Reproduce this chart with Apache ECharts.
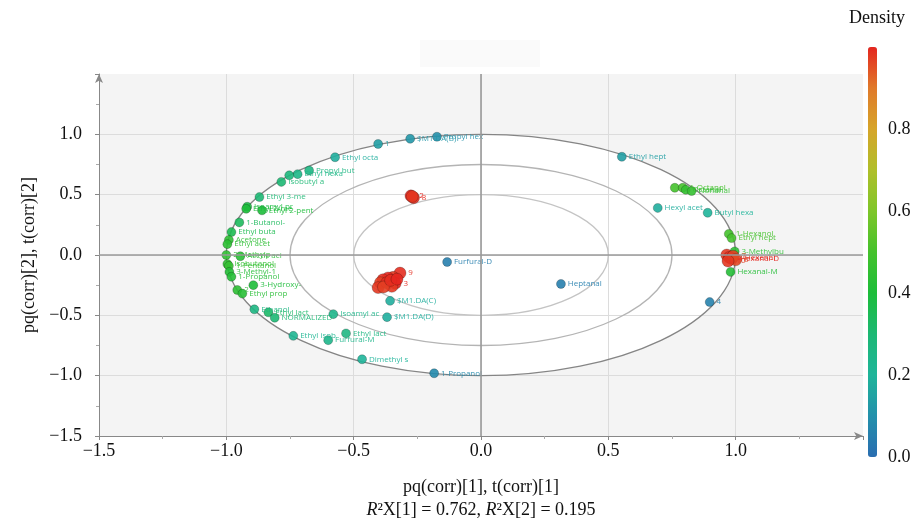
<!DOCTYPE html>
<html>
<head>
<meta charset="utf-8">
<title>Loadings biplot</title>
<script src="https://cdn.jsdelivr.net/npm/echarts@6/dist/echarts.min.js"></script>
<style>
  html, body { margin: 0; padding: 0; background: #fff; }
  #main { width: 919px; height: 523px; }
</style>
</head>
<body>
<div id="main"></div>
<script>
// point labels (variable names / samples)
var labels = [
  'Propyl hex', '$M1.DA(B)', '1', 'Ethyl octa', 'Propyl but', 'Ethyl hexa', '', 'Isobutyl a',
  'Ethyl 3-me', 'Isoamyl pr', 'Ethyl 2-me', 'Ethyl 2-pent', '1-Butanol-', 'Ethyl buta',
  'Acetone', 'Ethyl acet', '2-Methylp', 'Acetic aci', 'Isobutanol', '1-Pentanol',
  '3-Methyl-1', '1-Propanol', '3-Hydroxy-', '2', 'Ethyl prop', 'Ethanol', 'Ethyl lact',
  'NORMALIZED', 'Isoamyl ac', '$M1.DA(D)', '$M1.DA(C)', 'Ethyl isob', 'Furfural-M',
  'Ethyl lact', 'Dimethyl s', '1-Propanol', 'Furfural-D', 'Heptanal', '4', 'Ethyl hept',
  'Hexyl acet', 'Butyl hexa', '', '1-Octanol', 'Octanal', 'Nonanal', '1-Hexanol',
  'Ethyl hept', '3-Methylbu', 'Hexanal-M',
  '', '2-Hexenal', 'Hexanal-D', '7', '6', '10',
  '2', '8', '',
  '9', '', '', '', '', '5', '', '3', '', '1', '', ''
];
// pq(corr)[1], t(corr)[1]
var pc1 = [
  -0.173, -0.278, -0.404, -0.573, -0.675, -0.720, -0.753, -0.784,
  -0.870, -0.918, -0.922, -0.860, -0.949, -0.980,
  -0.990, -0.996, -1.000, -0.945, -0.996, -0.990,
  -0.988, -0.980, -0.894, -0.957, -0.937, -0.890, -0.835,
  -0.810, -0.580, -0.369, -0.357, -0.737, -0.600,
  -0.530, -0.467, -0.184, -0.133, 0.314, 0.898, 0.553,
  0.694, 0.890, 0.761, 0.792, 0.804, 0.827, 0.973,
  0.984, 0.996, 0.980,
  0.965, 0.975, 0.985, 0.990, 1.000, 0.970,
  -0.275, -0.265, -0.270,
  -0.318, -0.345, -0.365, -0.385, -0.395, -0.404, -0.370, -0.337, -0.350, -0.383, -0.355, -0.330
];
// pq(corr)[2], t(corr)[2]
var pc2 = [
  0.980, 0.963, 0.920, 0.810, 0.700, 0.670, 0.660, 0.606,
  0.480, 0.400, 0.383, 0.370, 0.270, 0.190,
  0.125, 0.090, 0.000, -0.010, -0.075, -0.090,
  -0.140, -0.180, -0.250, -0.290, -0.320, -0.450, -0.475,
  -0.520, -0.490, -0.515, -0.380, -0.670, -0.706,
  -0.650, -0.864, -0.980, -0.058, -0.240, -0.390, 0.814,
  0.390, 0.350, 0.557, 0.557, 0.540, 0.530, 0.175,
  0.140, 0.030, -0.140,
  0.000, -0.020, -0.030, -0.010, -0.040, -0.050,
  0.490, 0.475, 0.485,
  -0.150, -0.185, -0.190, -0.205, -0.230, -0.270, -0.230, -0.235, -0.260, -0.265, -0.210, -0.200
];
// colour value
var density = [
  0.10, 0.12, 0.14, 0.18, 0.26, 0.25, 0.28, 0.30,
  0.30, 0.38, 0.40, 0.40, 0.34, 0.36,
  0.44, 0.44, 0.45, 0.43, 0.45, 0.46,
  0.42, 0.42, 0.40, 0.44, 0.43, 0.26, 0.32,
  0.30, 0.24, 0.18, 0.18, 0.22, 0.24,
  0.26, 0.20, 0.08, 0.05, 0.05, 0.06, 0.14,
  0.18, 0.20, 0.50, 0.50, 0.46, 0.46, 0.50,
  0.50, 0.44, 0.42,
  0.98, 0.99, 1.00, 0.97, 0.96, 0.98,
  1.00, 0.99, 0.98,
  0.99, 0.98, 1.00, 0.99, 0.97, 0.98, 0.99, 1.00, 0.98, 0.97, 0.99, 1.00
];
// reference ellipses (radius in correlation units)
var rings = [1.0, 0.75, 0.5];
var densityTicks = [0, 0.2, 0.4, 0.6, 0.8];

var colors = ['#2a6db0', '#2390ab', '#1fb59a', '#1db874', '#1dbd3a', '#45c22c',
              '#7fc62a', '#b0bf2a', '#d6a52a', '#e07a2b', '#e4261f'];

function fmt(v) {
  if (v > 1.49) return '';
  return v.toFixed(1).replace('-', '\u2212');
}

var pts = pc1.map(function (x, i) {
  return { name: labels[i], value: [x, pc2[i], density[i]] };
});

var myChart = echarts.init(document.getElementById('main'));

var serif = 'Liberation Serif';
var gridColors = ['transparent', '#dcdcdc', '#dcdcdc', '#dcdcdc', '#dcdcdc', '#dcdcdc', 'transparent'];

var option = {
  backgroundColor: '#fff',
  animation: false,
  title: {
    text: 'Density', left: 849, top: 9, padding: 0,
    textStyle: { fontFamily: serif, fontSize: 18, fontWeight: 'normal', color: '#111' }
  },
  graphic: [{
    type: 'rect', left: 420, top: 40, shape: { width: 120, height: 27 },
    style: { fill: '#fafafa' }, silent: true
  }],
  grid: [
    { left: 99, right: 56, top: 74, bottom: 87, show: true, backgroundColor: '#f4f4f4', borderWidth: 0,
      outerBoundsMode: 'none' },
    { left: 868, top: 47, width: 9, height: 410, outerBoundsMode: 'none' }
  ],
  xAxis: [{
    type: 'value', min: -1.5, max: 1.5, interval: 0.5, z: 1,
    name: '{a|pq(corr)[1], t(corr)[1]}\n{i|R}{a|\u00b2X[1] = 0.762, }{i|R}{a|\u00b2X[2] = 0.195}',
    nameLocation: 'middle', nameGap: 40,
    nameTextStyle: {
      rich: {
        a: { fontFamily: serif, fontSize: 18, color: '#111', lineHeight: 23 },
        i: { fontFamily: serif, fontSize: 18, color: '#111', fontStyle: 'italic', lineHeight: 23 }
      }
    },
    axisLine: { onZero: false, symbol: ['none', 'arrow'], symbolSize: [6, 9], lineStyle: { color: '#888' } },
    axisTick: { show: true, length: 4, lineStyle: { color: '#888' } },
    minorTick: { show: true, splitNumber: 2, length: 3, lineStyle: { color: '#aaa' } },
    axisLabel: { formatter: fmt, fontFamily: serif, fontSize: 18, color: '#111', margin: 6 },
    splitLine: { show: true, lineStyle: { color: gridColors, width: 1 } }
  }, {
    gridIndex: 1, type: 'value', show: false, min: 0, max: 1
  }],
  yAxis: [{
    type: 'value', min: -1.5, max: 1.5, interval: 0.5, z: 1,
    name: 'pq(corr)[2], t(corr)[2]',
    nameLocation: 'middle', nameGap: 58,
    nameTextStyle: { fontFamily: serif, fontSize: 18, color: '#111' },
    axisLine: { onZero: false, symbol: ['none', 'arrow'], symbolSize: [6, 9], lineStyle: { color: '#888' } },
    axisTick: { show: true, length: 4, lineStyle: { color: '#888' } },
    minorTick: { show: true, splitNumber: 2, length: 3, lineStyle: { color: '#aaa' } },
    axisLabel: { formatter: fmt, fontFamily: serif, fontSize: 18, color: '#111', margin: 17 },
    splitLine: { show: true, lineStyle: { color: gridColors, width: 1 } }
  }, {
    gridIndex: 1, type: 'value', min: 0, max: 1, interval: 0.2, position: 'right',
    axisLine: { show: false }, axisTick: { show: false }, splitLine: { show: false },
    axisLabel: {
      margin: 11, fontFamily: serif, fontSize: 18, color: '#111',
      formatter: function (v) { return densityTicks.indexOf(Math.round(v * 10) / 10) >= 0 ? v.toFixed(1) : ''; }
    }
  }],
  visualMap: {
    type: 'continuous', seriesIndex: 2, dimension: 2, min: 0, max: 1,
    left: 863, top: 42, itemWidth: 9, itemHeight: 410, calculable: false,
    text: null, padding: 5,
    inRange: { color: colors }
  },
  series: [
    {
      // white fill of the outer ellipse, under the grid lines
      type: 'custom', z: 0, silent: true,
      data: [[0, 0, rings[0]]],
      renderItem: function (params, api) {
        var c = api.coord([api.value(0), api.value(1)]);
        var s = api.size([api.value(2), api.value(2)]);
        return { type: 'ellipse', z2: -0.5, shape: { cx: c[0], cy: c[1], rx: s[0], ry: s[1] },
                 style: { fill: '#fff', stroke: null } };
      }
    },
    {
      type: 'custom', z: 2, silent: true,
      data: rings.map(function (r) { return [0, 0, r]; }),
      renderItem: function (params, api) {
        var c = api.coord([api.value(0), api.value(1)]);
        var s = api.size([api.value(2), api.value(2)]);
        var strokes = ['#858585', '#b4b4b4', '#c4c4c4'];
        return { type: 'ellipse', shape: { cx: c[0], cy: c[1], rx: s[0], ry: s[1] },
                 style: { fill: null, stroke: strokes[params.dataIndex], lineWidth: 1.3 } };
      }
    },
    {
      type: 'scatter', z: 3,
      data: pts,
      symbolSize: function (v) { return v[2] > 0.9 ? 12 : 9; },
      itemStyle: { opacity: 0.9, borderColor: 'rgba(0,0,0,0.35)', borderWidth: 0.7 },
      label: {
        show: true, position: 'right', distance: 2, formatter: '{b}',
        fontFamily: 'Open Sans', fontSize: 8, color: 'inherit'
      },
      markLine: {
        silent: true, symbol: 'none', label: { show: false },
        lineStyle: { color: '#9a9a9a', width: 1.6, type: 'solid' },
        data: [{ xAxis: 0 }, { yAxis: 0 }]
      }
    }
  ]
};

myChart.setOption(option);
window.onresize = myChart.resize;
</script>
</body>
</html>
